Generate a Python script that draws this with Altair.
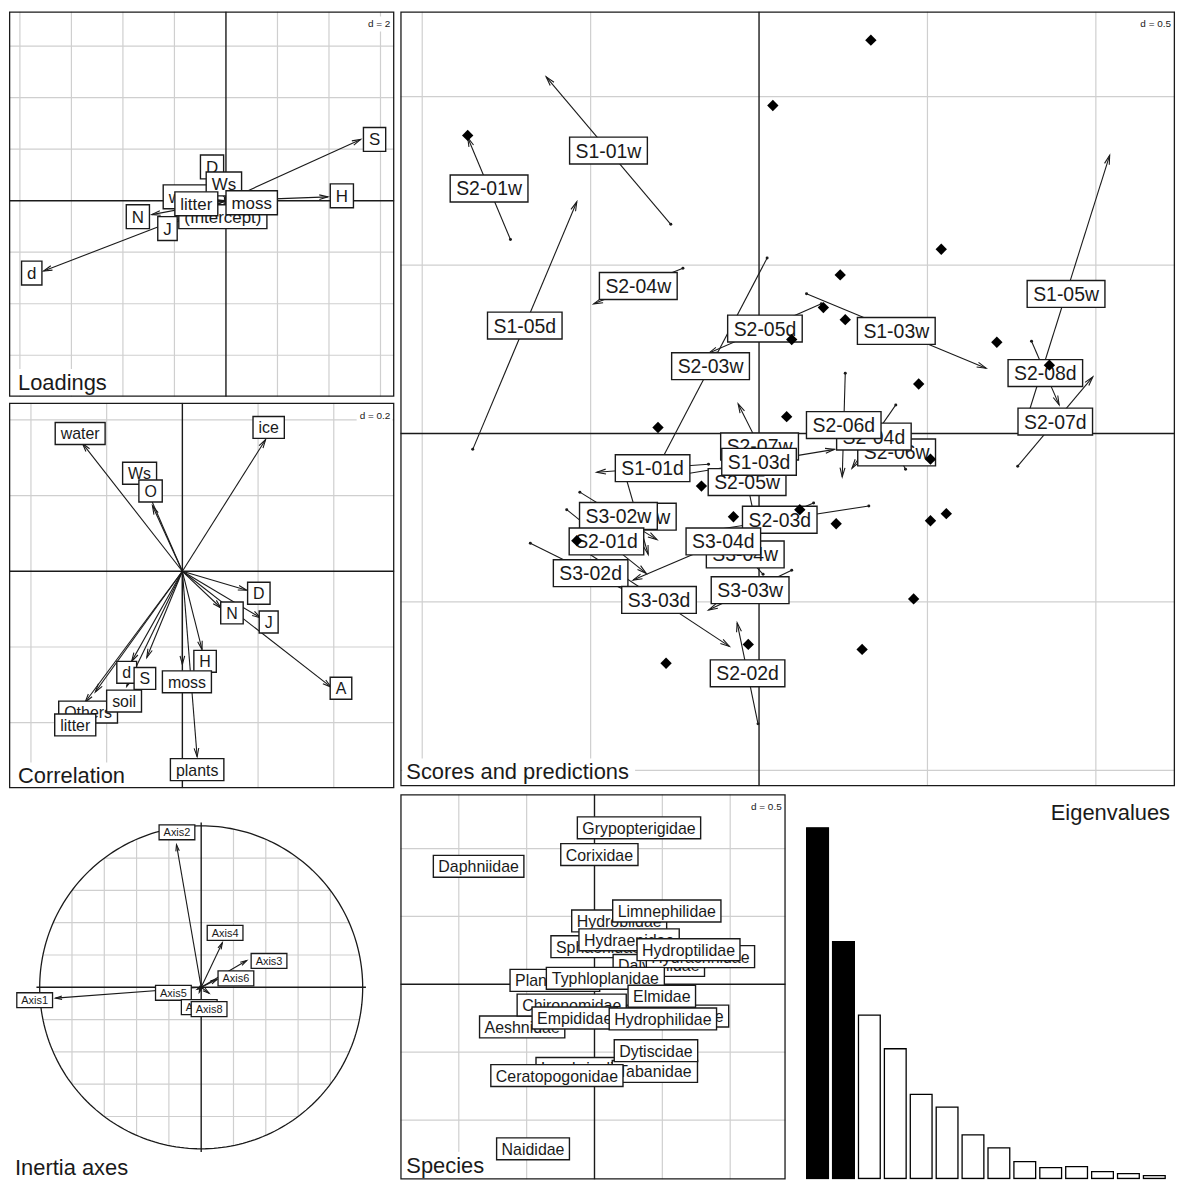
import math
import numpy as np
import pandas as pd
import altair as alt

FONT = "Liberation Sans"
INK = "#1a1a1a"
GRID = "#cfcfcf"
S = 387
B = 778
GAP = 4
ARROW = "M -0.27 1 L 0 0 L 0.27 1"

# ---------------- data ----------------
# Loadings (d = 2): arrow tips and label positions
load_names = ["water", "D", "Ws", "(Intercept)", "N", "J", "litter", "moss", "S", "H", "d"]
load_x = [-1.04, -0.46, -0.04, -0.08, -2.88, -1.88, -0.85, 0.70, 5.23, 3.96, -7.08]
load_y = [0.12, 1.04, 0.50, -0.23, -0.54, -0.81, -0.08, -0.04, 2.38, 0.15, -2.73]
load_lx = [-1.42, -0.54, -0.08, -0.12, -3.42, -2.27, -1.15, 1.00, 5.77, 4.50, -7.54]
load_ly = [0.15, 1.31, 0.65, -0.62, -0.62, -1.08, -0.12, -0.08, 2.38, 0.19, -2.81]

# Correlation (d = 0.2)
cor_names = ["water", "Ws", "O", "ice", "D", "N", "J", "A", "H", "moss", "plants",
             "d", "S", "Others", "soil", "litter"]
cor_x = [-0.264, -0.097, -0.079, 0.220, 0.170, 0.102, 0.207, 0.393, 0.052, 0.000, 0.039,
         -0.134, -0.094, -0.230, -0.147, -0.257]
cor_y = [0.338, 0.223, 0.173, 0.348, -0.050, -0.097, -0.123, -0.306, -0.207, -0.246, -0.490,
         -0.238, -0.228, -0.319, -0.304, -0.346]
cor_lx = [-0.270, -0.113, -0.084, 0.228, 0.202, 0.131, 0.228, 0.419, 0.060, 0.012, 0.039,
          -0.147, -0.099, -0.249, -0.154, -0.283]
cor_ly = [0.364, 0.259, 0.212, 0.380, -0.058, -0.110, -0.134, -0.309, -0.238, -0.292, -0.524,
          -0.267, -0.283, -0.372, -0.343, -0.406]

# Scores and predictions (d = 0.5): arrows from score to prediction
sc_names = ["S2-07w", "S2-05w", "S1-03d", "S3-01w", "S3-02w", "S2-01d", "S3-02d", "S3-03d",
            "S1-01d", "S2-03d", "S3-04w", "S3-04d", "S3-03w", "S2-06w", "S2-04d", "S2-06d",
            "S2-02d", "S1-01w", "S2-01w", "S1-05d", "S2-04w", "S2-05d", "S2-03w", "S1-03w",
            "S1-05w", "S2-08d", "S2-07d"]
sc_x0 = [0.065, -0.018, -0.224, -0.394, -0.532, -0.571, -0.679, -0.506,
         -0.150, 0.326, 0.012, 0.162, 0.097, 0.435, 0.406, 0.256,
         -0.003, -0.262, -0.738, -0.850, -0.226, 0.185, 0.024, 0.141,
         0.782, 0.809, 0.768]
sc_y0 = [-0.165, -0.229, -0.121, -0.135, -0.174, -0.226, -0.326, -0.356,
         -0.091, -0.215, -0.418, -0.206, -0.406, -0.106, 0.085, 0.179,
         -0.862, 0.621, 0.576, -0.047, 0.491, 0.385, 0.521, 0.415,
         0.003, 0.274, -0.097]
sc_x1 = [-0.062, -0.053, 0.224, -0.329, -0.303, -0.335, -0.321, -0.088,
         -0.482, -0.203, -0.094, -0.374, -0.150, 0.382, 0.276, 0.247,
         -0.065, -0.632, -0.865, -0.541, -0.491, -0.150, -0.312, 0.674,
         1.041, 0.891, 0.991]
sc_y1 = [0.088, -0.059, -0.047, -0.359, -0.315, -0.415, -0.503, -0.632,
         -0.115, -0.297, -0.300, -0.435, -0.524, -0.006, -0.103, -0.129,
         -0.562, 1.059, 0.879, 0.688, 0.385, 0.238, -0.121, 0.194,
         0.826, 0.085, 0.168]
dia_x = [0.332, 0.041, -0.865, 0.541, 0.241, 0.191, 0.256, 0.097, 0.706, 0.862, 0.474,
         -0.300, 0.082, -0.541, -0.171, -0.076, -0.032, -0.276, 0.509, 0.121, 0.229,
         0.509, 0.556, 0.459, 0.306]
dia_y = [1.168, 0.974, 0.885, 0.547, 0.471, 0.374, 0.338, 0.279, 0.271, 0.203, 0.147,
         0.018, 0.050, -0.318, -0.156, -0.247, -0.626, -0.682, -0.076, -0.226, -0.268,
         -0.259, -0.238, -0.491, -0.641]

# Inertia axes (correlation circle)
ine_names = ["Axis1", "Axis2", "Axis3", "Axis4", "Axis6", "Axis5", "Axis7", "Axis8"]
ine_x = [-0.902, -0.153, 0.282, 0.131, 0.098, -0.025, -0.012, 0.049]
ine_y = [-0.067, 0.883, 0.166, 0.276, 0.049, -0.012, -0.031, -0.037]
ine_lx = [-1.031, -0.150, 0.420, 0.148, 0.215, -0.172, -0.012, 0.049]
ine_ly = [-0.080, 0.960, 0.163, 0.337, 0.055, -0.034, -0.123, -0.135]

# Species (d = 0.5)
sp_names = ["Hydrobiidae", "Sphaeriidae", "Limnephilidae", "Hydraenidae", "Dalyelliidae",
            "Hydrachnidae", "Hydroptilidae", "Planariidae", "Typhloplanidae", "Aeshnidae",
            "Chironomidae", "Leptoceridae", "Elmidae", "Empididae", "Hydrophilidae",
            "Lumbriculidae", "Tabanidae", "Dytiscidae", "Ceratopogonidae", "Grypopterigidae",
            "Corixidae", "Daphniidae", "Naididae"]
sp_x = [0.182, 0.029, 0.533, 0.255, 0.474, 0.781, 0.693, -0.292, 0.080, -0.533,
        -0.168, 0.613, 0.496, -0.146, 0.504, -0.029, 0.445, 0.453, -0.277, 0.328,
        0.036, -0.854, -0.453]
sp_y = [0.467, 0.277, 0.540, 0.328, 0.139, 0.204, 0.255, 0.029, 0.044, -0.314,
        -0.153, -0.234, -0.088, -0.248, -0.255, -0.620, -0.642, -0.489, -0.672, 1.153,
        0.956, 0.869, -1.212]

# Eigenvalues
eig_vals = [3.54, 2.39, 1.65, 1.31, 0.85, 0.72, 0.44, 0.31, 0.17, 0.11, 0.12, 0.07, 0.05, 0.03]
eig_kept = 2

# ---------------- helpers ----------------
AW = dict(zip("ABCDEFGHIJKLMNOPQRSTUVWXYZ",
              [667, 667, 722, 722, 667, 611, 778, 722, 278, 500, 667, 556, 833, 722, 778, 667,
               778, 722, 667, 611, 722, 667, 944, 667, 667, 611]))
AW.update(zip("abcdefghijklmnopqrstuvwxyz",
              [556, 556, 500, 556, 556, 278, 556, 556, 222, 222, 500, 222, 833, 556, 556, 556,
               556, 333, 500, 278, 556, 500, 722, 500, 500, 500]))
AW.update({c: 556 for c in "0123456789"})
AW.update({"-": 333, "(": 333, ")": 333, " ": 278, ".": 278, "=": 584})


def text_w(s, fs):
    return sum(AW.get(c, 556) for c in s) / 1000.0 * fs


def grid_vals(lo, hi, step):
    k0 = math.ceil(lo / step - 1e-9)
    k1 = math.floor(hi / step + 1e-9)
    return [round(k * step, 6) for k in range(k0, k1 + 1) if k != 0]


def one():
    return pd.DataFrame({"k": [0]})


class Panel:
    def __init__(self, xd, yd, w, h):
        self.xd, self.yd, self.w, self.h = xd, yd, w, h
        self.sx = alt.Scale(domain=list(xd), nice=False, zero=False)
        self.sy = alt.Scale(domain=list(yd), nice=False, zero=False)
        self.px = w / (xd[1] - xd[0])
        self.py = h / (yd[1] - yd[0])
        self.layers = []

    def X(self, f):
        return alt.X(f, type="quantitative", scale=self.sx, axis=None)

    def Y(self, f):
        return alt.Y(f, type="quantitative", scale=self.sy, axis=None)

    def grid(self, step):
        x0, x1 = self.xd
        y0, y1 = self.yd
        gv = pd.DataFrame({"v": grid_vals(x0, x1, step)})
        gv["a"], gv["b"] = y0, y1
        gh = pd.DataFrame({"v": grid_vals(y0, y1, step)})
        gh["a"], gh["b"] = x0, x1
        self.rules_v(gv)
        self.rules_h(gh)

    def rules_v(self, gv):
        self.layers.append(alt.Chart(gv).mark_rule(color=GRID, strokeWidth=1.2, clip=True).encode(
            x=self.X("v"), y=self.Y("a"), y2="b"))

    def rules_h(self, gh):
        self.layers.append(alt.Chart(gh).mark_rule(color=GRID, strokeWidth=1.2, clip=True).encode(
            y=self.Y("v"), x=self.X("a"), x2="b"))

    def axes(self, ext=None):
        x0, x1 = ext if ext else self.xd
        y0, y1 = ext if ext else self.yd
        df = pd.DataFrame({"o": [0.0], "a": [y0], "b": [y1], "c": [x0], "d": [x1]})
        self.layers.append(alt.Chart(df).mark_rule(color=INK, strokeWidth=1.4, clip=True).encode(
            x=self.X("o"), y=self.Y("a"), y2="b"))
        self.layers.append(alt.Chart(df).mark_rule(color=INK, strokeWidth=1.4, clip=True).encode(
            y=self.Y("o"), x=self.X("c"), x2="d"))

    def arrows(self, x0, y0, x1, y1, size, dots=False):
        df = pd.DataFrame({"x0": x0, "y0": y0, "x1": x1, "y1": y1})
        df["ang"] = np.degrees(np.arctan2(df.x1 - df.x0, df.y1 - df.y0)) % 360
        self.layers.append(alt.Chart(df).mark_rule(color=INK, strokeWidth=1.1, clip=True).encode(
            x=self.X("x0"), y=self.Y("y0"), x2="x1", y2="y1"))
        self.layers.append(alt.Chart(df).mark_point(
            shape=ARROW, filled=False, stroke=INK, strokeWidth=1.1, size=size, opacity=1,
            clip=True).encode(
            x=self.X("x1"), y=self.Y("y1"), angle=alt.Angle("ang:Q", scale=None)))
        if dots:
            self.layers.append(alt.Chart(df).mark_point(
                shape="circle", filled=True, color=INK, size=9, opacity=1, clip=True).encode(
                x=self.X("x0"), y=self.Y("y0")))

    def labels(self, names, lx, ly, fs, pad, bh, sw=1.4):
        for n, x, y in zip(names, lx, ly):
            hw = (text_w(n, fs) / 2 + pad) / self.px
            hh = (bh / 2) / self.py
            d = pd.DataFrame({"lab": [n], "x": [x], "y": [y], "xa": [x - hw], "xb": [x + hw],
                              "ya": [y - hh], "yb": [y + hh]})
            c = alt.Chart(d)
            self.layers.append(c.mark_rect(fill="white", stroke=INK, strokeWidth=sw,
                                           clip=True).encode(
                x=self.X("xa"), x2="xb", y=self.Y("ya"), y2="yb"))
            self.layers.append(c.mark_text(font=FONT, fontSize=fs, color=INK, align="center",
                                           baseline="middle", dy=1, clip=True).encode(
                x=self.X("x"), y=self.Y("y"), text="lab:N"))

    def points(self, xs, ys, shape, size):
        df = pd.DataFrame({"x": xs, "y": ys})
        self.layers.append(alt.Chart(df).mark_point(
            shape=shape, filled=True, color="black", size=size, opacity=1, clip=True).encode(
            x=self.X("x"), y=self.Y("y")))

    def note(self, text, fs=10):
        tw = text_w(text, fs)
        c = alt.Chart(one())
        self.layers.append(c.mark_rect(fill="white", clip=True).encode(
            x=alt.value(self.w - tw - 7), x2=alt.value(self.w - 2), y=alt.value(5),
            y2=alt.value(20)))
        self.layers.append(c.mark_text(font=FONT, fontSize=fs, color=INK, align="right",
                                       baseline="alphabetic", clip=True).encode(
            x=alt.value(self.w - 4), y=alt.value(16), text=alt.value(text)))

    def title(self, text, x, y, align="left", fs=22, box=True):
        tw = text_w(text, fs)
        c = alt.Chart(one())
        if box:
            a, b = (x - 4, x + tw + 6) if align == "left" else (x - tw - 6, x + 4)
            self.layers.append(c.mark_rect(fill="white", clip=True).encode(
                x=alt.value(max(a, 1)), x2=alt.value(b), y=alt.value(y - fs * 0.95),
                y2=alt.value(min(y + fs * 0.3, self.h - 1))))
        self.layers.append(c.mark_text(font=FONT, fontSize=fs, color=INK, align=align,
                                       baseline="alphabetic", clip=True).encode(
            x=alt.value(x), y=alt.value(y), text=alt.value(text)))

    def frame(self):
        self.layers.append(alt.Chart(one()).mark_rect(
            fillOpacity=0, stroke=INK, strokeWidth=2.6, clip=True).encode(
            x=alt.value(0), x2=alt.value(self.w), y=alt.value(0), y2=alt.value(self.h)))

    def chart(self):
        return alt.layer(*self.layers).properties(width=self.w, height=self.h)


# ---------------- panels ----------------
# Loadings
L = Panel((-8.423, 6.538), (-7.615, 7.346), S, S)
L.grid(2)
L.axes()
L.arrows([0.0] * len(load_x), [0.0] * len(load_y), load_x, load_y, size=300)
L.labels(load_names, load_lx, load_ly, fs=17, pad=5.5, bh=24)
L.note("d = 2")
L.title("Loadings", 9, 380)
L.frame()

# Correlation
C = Panel((-0.458, 0.560), (-0.573, 0.445), S, S)
C.grid(0.2)
C.axes()
C.arrows([0.0] * len(cor_x), [0.0] * len(cor_y), cor_x, cor_y, size=300)
C.labels(cor_names, cor_lx, cor_ly, fs=16, pad=5.5, bh=22)
C.note("d = 0.2")
C.title("Correlation", 9, 382)
C.frame()

# Scores and predictions
P = Panel((-1.065, 1.235), (-1.047, 1.253), B, B)
P.grid(0.5)
P.axes()
P.arrows(sc_x0, sc_y0, sc_x1, sc_y1, size=340, dots=True)
mid_x = [(a + b) / 2 for a, b in zip(sc_x0, sc_x1)]
mid_y = [(a + b) / 2 for a, b in zip(sc_y0, sc_y1)]
P.labels(sc_names, mid_x, mid_y, fs=19.5, pad=6, bh=27)
P.points(dia_x, dia_y, "diamond", 130)
P.note("d = 0.5")
P.title("Scores and predictions", 6, 771)
P.frame()

# Inertia axes: grid clipped to the unit circle
I = Panel((-1.190, 1.196), (-1.190, 1.196), S, S)
gvals = [v for v in grid_vals(-1.0, 1.0, 0.2) if abs(v) < 0.999]
half = [math.sqrt(1 - v * v) for v in gvals]
I.rules_v(pd.DataFrame({"v": gvals, "a": [-h for h in half], "b": half}))
I.rules_h(pd.DataFrame({"v": gvals, "a": [-h for h in half], "b": half}))
ang = np.linspace(0, 2 * np.pi, 241)
circ = pd.DataFrame({"cx": np.cos(ang), "cy": np.sin(ang), "o": np.arange(len(ang))})
I.layers.append(alt.Chart(circ).mark_line(color=INK, strokeWidth=1.3, clip=True).encode(
    x=I.X("cx"), y=I.Y("cy"), order="o:Q"))
I.axes(ext=(-1.02, 1.02))
I.arrows([0.0] * len(ine_x), [0.0] * len(ine_y), ine_x, ine_y, size=170)
I.labels(ine_names, ine_lx, ine_ly, fs=11, pad=4.5, bh=15, sw=1.3)
I.title("Inertia axes", 6, 382, box=False)

# Species
SP = Panel((-1.431, 1.409), (-1.438, 1.401), S, S)
SP.grid(0.5)
SP.axes()
SP.labels(sp_names, sp_x, sp_y, fs=16, pad=5, bh=22)
SP.note("d = 0.5")
SP.title("Species", 6, 380)
SP.frame()

# Eigenvalues
E = Panel((0.0, 14.876), (-0.01, 3.88), S, S)
eg = pd.DataFrame({"i": np.arange(1, len(eig_vals) + 1), "v": eig_vals})
eg["a"] = eg.i - 0.42
eg["b"] = eg.i + 0.42
eg["z"] = 0.0
eg["f"] = np.where(eg.i <= eig_kept, "black", "white")
E.layers.append(alt.Chart(eg).mark_rect(stroke="black", strokeWidth=1.3, clip=True).encode(
    x=E.X("a"), x2="b", y=E.Y("z"), y2="v", fill=alt.Fill("f:N", scale=None)))
E.title("Eigenvalues", 380, 26, align="right", box=False)

left = alt.vconcat(L.chart(), C.chart(), spacing=GAP)
top = alt.hconcat(left, P.chart(), spacing=GAP)
bottom = alt.hconcat(I.chart(), SP.chart(), E.chart(), spacing=GAP)
chart = alt.vconcat(top, bottom, spacing=GAP).properties(padding=0).configure_view(
    stroke="transparent")

chart.save("out.html", embed_options={"renderer": "svg", "actions": False})
